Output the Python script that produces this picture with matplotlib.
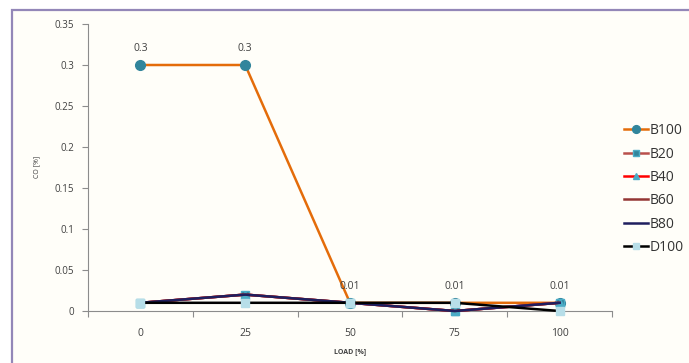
import matplotlib
matplotlib.use("Agg")
import matplotlib.pyplot as plt
from matplotlib.patches import Rectangle

plt.rcParams['font.family'] = ['Open Sans', 'DejaVu Sans']

# CO emission per blend at each engine load
loads = ["0", "25", "50", "75", "100"]
B100 = [0.3, 0.3, 0.01, 0.01, 0.01]
B20 = [0.01, 0.02, 0.01, 0.0, 0.01]
B40 = [0.01, 0.02, 0.01, 0.0, 0.01]
B60 = [0.01, 0.02, 0.01, 0.0, 0.01]
B80 = [0.01, 0.02, 0.01, 0.0, 0.01]
D100 = [0.01, 0.01, 0.01, 0.01, 0.0]
yticks = [0, 0.05, 0.1, 0.15, 0.2, 0.25, 0.3, 0.35]
ytick_labels = ["0", "0.05", "0.1", "0.15", "0.2", "0.25", "0.3", "0.35"]

W, H = 689, 363
fig = plt.figure(figsize=(W / 100, H / 100), dpi=100)
fig.patch.set_facecolor("white")

# chart area frame
frame = Rectangle((12 / W, -0.05), 1.0, (H - 10) / H + 0.05, transform=fig.transFigure,
                  facecolor="#fffef9", edgecolor="#9387b8", linewidth=1.6, zorder=0)
fig.add_artist(frame)

ax = fig.add_axes([88 / W, (H - 311) / H, (612 - 88) / W, (311 - 24) / H])
ax.set_facecolor("none")
ax.set_zorder(2)
x = list(range(len(loads)))

series = [
    ("B100", B100, dict(color="#E46C0A", marker="o", mfc="#31859C", mec="#31859C", ms=7, lw=1.8)),
    ("B20", B20, dict(color="#B9504C", marker="s", mfc="#31859C", mec="#4BACC6", ms=5.5, lw=1.8)),
    ("B40", B40, dict(color="#FF0000", marker="^", mfc="#4BACC6", mec="#4BACC6", ms=5.5, lw=1.8)),
    ("B60", B60, dict(color="#943634", marker="", lw=1.8)),
    ("B80", B80, dict(color="#1F1F5F", marker="", lw=1.8)),
    ("D100", D100, dict(color="#000000", marker="s", mfc="#B7DEE8", mec="#B7DEE8", ms=6, lw=1.8)),
]
for name, vals, st in series:
    ax.plot(x, vals, label=name, clip_on=False, **st)

# value labels on B100
for xi, v in zip(x, B100):
    ax.annotate(f"{v:g}", (xi, v), xytext=(0, 8), textcoords="offset points",
                ha="center", va="bottom", fontsize=7.5, color="#404040")

ax.set_xlim(-0.5, len(loads) - 0.5)
ax.set_ylim(0, 0.35)
ax.set_yticks(yticks)
ax.set_yticklabels(ytick_labels)
ax.set_xticks(x)
ax.set_xticklabels(loads)
ax.set_xticks([i - 0.5 for i in range(len(loads) + 1)], minor=True)

for s in ["top", "right"]:
    ax.spines[s].set_visible(False)
for s in ["left", "bottom"]:
    ax.spines[s].set_color("#8c8c8c")
    ax.spines[s].set_linewidth(0.8)
    ax.spines[s].set_zorder(0)

ax.tick_params(axis="y", length=4, width=0.8, color="#8c8c8c", labelsize=7, labelcolor="#404040", pad=6)
ax.tick_params(axis="x", which="major", length=0, labelsize=7.5, labelcolor="#404040", pad=12)
ax.tick_params(axis="x", which="minor", length=4, width=0.8, color="#8c8c8c")

fig.text(37 / W, (H - 167) / H, "CO [%]", rotation=90, ha="center", va="center",
         fontsize=5, color="#404040")
fig.text(350 / W, (H - 352) / H, "LOAD [%]", ha="center", va="center",
         fontsize=5, color="#404040", fontweight="bold")

leg = fig.legend(loc="center left", bbox_to_anchor=(624 / W, (H - 189) / H), frameon=False,
                 fontsize=10, handlelength=1.75, handletextpad=0.1, labelspacing=0.6,
                 borderpad=0, borderaxespad=0, labelcolor="#333333", markerscale=0.8)
leg.set_zorder(3)

fig.savefig("out.png", dpi=100)
